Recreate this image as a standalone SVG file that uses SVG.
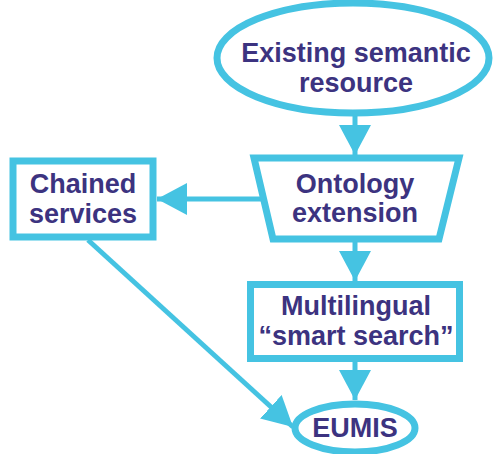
<svg xmlns="http://www.w3.org/2000/svg" width="494" height="454" viewBox="0 0 494 454">
<style>
.shape{fill:#ffffff;stroke:#45C3E2;stroke-width:7}
.lbl{font-family:"Liberation Sans",Arial,sans-serif;font-weight:bold;font-size:27px;fill:#3C3380;text-anchor:middle}
.conn{stroke:#45C3E2;stroke-width:5;fill:none}
</style>
<defs>
<marker id="ah" viewBox="0 0 30 32" refX="30" refY="16" markerWidth="30" markerHeight="32" markerUnits="userSpaceOnUse" orient="auto">
<path d="M0,0 L30,16 L0,32 z" fill="#45C3E2"/>
</marker>
</defs>
<g id="connectors">
<line class="conn" x1="355" y1="116" x2="355" y2="155" marker-end="url(#ah)"/>
<line class="conn" x1="262" y1="199" x2="157" y2="199" marker-end="url(#ah)"/>
<line class="conn" x1="355" y1="241" x2="355" y2="281" marker-end="url(#ah)"/>
<line class="conn" x1="355" y1="361" x2="355" y2="400" marker-end="url(#ah)"/>
<line class="conn" x1="88" y1="240" x2="293" y2="427" marker-end="url(#ah)"/>
</g>
<g id="existing">
<ellipse class="shape" cx="353" cy="58" rx="136" ry="55"/>
<text class="lbl" x="356" y="62">Existing semantic</text>
<text class="lbl" x="356" y="92">resource</text>
</g>
<g id="ontology">
<polygon class="shape" points="254,158 459,158 439,239 273,239"/>
<text class="lbl" x="355" y="193">Ontology</text>
<text class="lbl" x="355" y="222">extension</text>
</g>
<g id="chained">
<rect class="shape" x="13" y="161" width="140" height="76"/>
<text class="lbl" x="83" y="193">Chained</text>
<text class="lbl" x="83" y="223">services</text>
</g>
<g id="multilingual">
<rect class="shape" x="250.5" y="284.5" width="209" height="74"/>
<text class="lbl" x="356" y="315">Multilingual</text>
<text class="lbl" x="356" y="345">“smart search”</text>
</g>
<g id="eumis">
<ellipse class="shape" cx="355" cy="428" rx="60" ry="24"/>
<text class="lbl" x="355" y="437">EUMIS</text>
</g>
</svg>
